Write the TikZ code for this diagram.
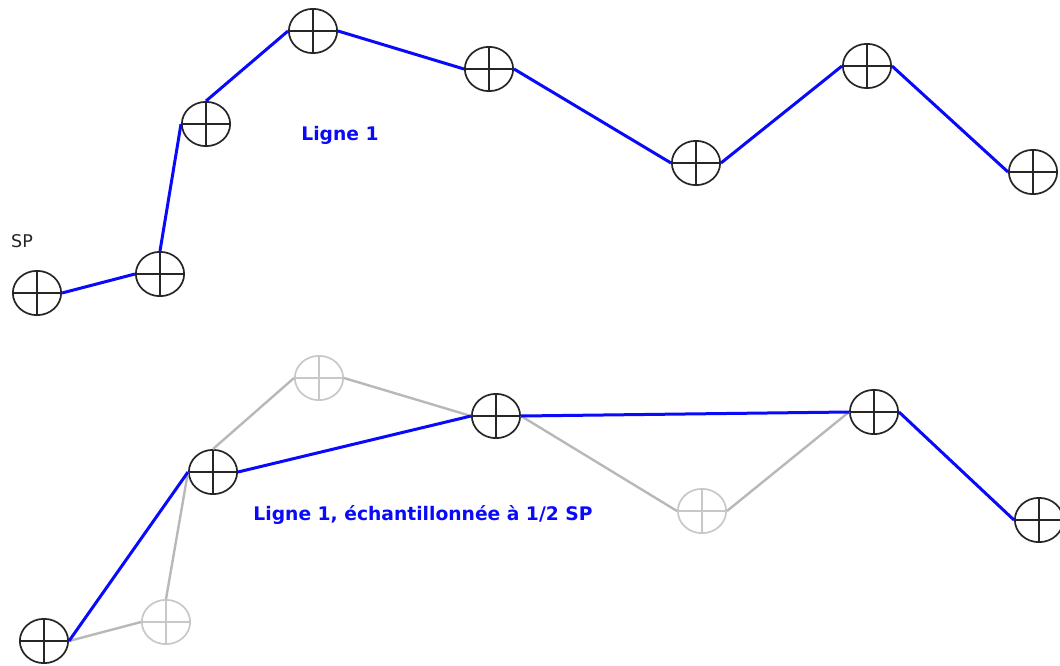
\documentclass[tikz,border=0pt]{standalone}
\usepackage{fontspec}
\setmainfont{DejaVu Sans}
\usetikzlibrary{shapes.geometric}
\definecolor{lineblue}{RGB}{10,10,250}
\definecolor{ghost}{RGB}{200,200,200}
\tikzset{
  sta/.style={ellipse, draw=#1, line width=1.7pt, minimum width=48.3pt, minimum height=44.3pt, inner sep=0pt,
    path picture={\draw[#1, line width=1.7pt] (path picture bounding box.north) -- (path picture bounding box.south)
      (path picture bounding box.west) -- (path picture bounding box.east);}},
  sta/.default={black!85},
  ghoststa/.style={sta=ghost},
  blueline/.style={draw=lineblue, line width=3pt},
  greyline/.style={draw=ghost!92!black, line width=2.4pt},
  lbl/.style={font=\fontsize{18.7}{22}\selectfont\bfseries, text=lineblue},
}
\begin{document}
\begin{tikzpicture}[x=1pt,y=-1pt]
\useasboundingbox (0,0) rectangle (1060,666);
% top
\node[sta] (t1) at (37,293) {};
\node[sta] (t2) at (160,274) {};
\node[sta] (t3) at (206,124) {};
\node[sta] (t4) at (313,31) {};
\node[sta] (t5) at (489,69) {};
\node[sta] (t6) at (696,163) {};
\node[sta] (t7) at (867,66) {};
\node[sta] (t8) at (1033,172) {};
\draw[blueline] (t1.east) -- (t2.west);
\draw[blueline] (t2.north) -- (t3.west);
\draw[blueline] (t3.north) -- (t4.west);
\draw[blueline] (t4.east) -- (t5.west);
\draw[blueline] (t5.east) -- (t6.west);
\draw[blueline] (t6.east) -- (t7.west);
\draw[blueline] (t7.east) -- (t8.west);
\node[font=\fontsize{17.5}{20}\selectfont, text=black!85] (sp) at (22,241) {SP};
\node[lbl] (l1) at (340,135) {Ligne 1};
% bottom
\node[sta] (b1) at (44,641) {};
\node[ghoststa] (b2) at (166,622) {};
\node[sta] (b3) at (213,472) {};
\node[ghoststa] (b4) at (319,378) {};
\node[sta] (b5) at (496,416) {};
\node[ghoststa] (b6) at (702,511) {};
\node[sta] (b7) at (874,412) {};
\node[sta] (b8) at (1039,520) {};
\draw[greyline] (b1.east) -- (b2.west);
\draw[greyline] (b2.north) -- (b3.west);
\draw[greyline] (b3.north) -- (b4.west);
\draw[greyline] (b4.east) -- (b5.west);
\draw[greyline] (b5.east) -- (b6.west);
\draw[greyline] (b6.east) -- (b7.west);
\draw[blueline] (b1.east) -- (b3.west);
\draw[blueline] (b3.east) -- (b5.west);
\draw[blueline] (b5.east) -- (b7.west);
\draw[blueline] (b7.east) -- (b8.west);
\node[lbl] (l2) at (423,515) {Ligne 1, échantillonnée à 1/2 SP};
\end{tikzpicture}
\end{document}
